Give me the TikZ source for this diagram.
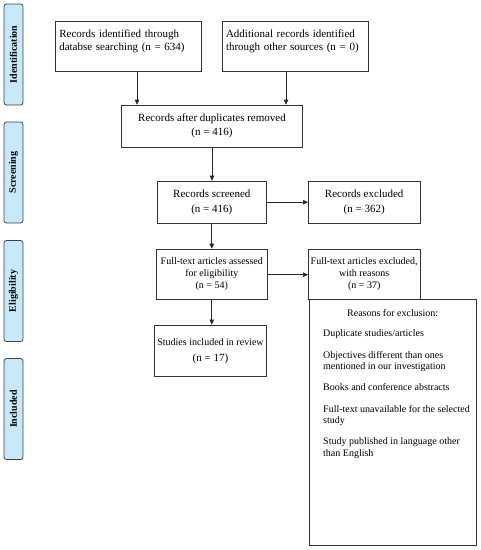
\documentclass[tikz,border=0pt]{standalone}
\usepackage{fontspec}
\setmainfont{Liberation Serif}
\usetikzlibrary{arrows.meta}
\definecolor{tabblue}{RGB}{200,232,252}

\begin{document}
\begin{tikzpicture}[x=1pt,y=-1pt,
		box/.style={draw=black!80,line width=0.7pt,rectangle,inner sep=0pt,align=center,font=\fontsize{11}{12.5}\selectfont},
		smallbox/.style={box,font=\fontsize{10}{12}\selectfont},
		tab/.style={draw=black!75,line width=0.8pt,fill=tabblue,rounded corners=2.5pt,rotate=90,minimum width=101pt,minimum height=19pt,inner sep=0pt,font=\fontsize{10}{12}\selectfont\bfseries},
		arr/.style={-{Triangle[length=5pt,width=4.5pt]},line width=0.7pt,black!85}]
			\useasboundingbox (0,0) rectangle (481,550);
			
			% stage tabs on the left
			\node[tab] (tabid) at (13.5,54.5) {Identification};
			\node[tab] (tabscr) at (13.5,172.5) {Screening};
			\node[tab] (tabelig) at (13.5,291) {Eligibility};
			\node[tab] (tabincl) at (13.5,409) {Included};
			
			% flow boxes
			\node[box,minimum width=145.3pt,minimum height=50.7pt,text width=138pt,align=left] (dbsearch) at (128.3,46.3) {Records identified through\\databse searching (n = 634)\\~};
			\node[box,minimum width=145.6pt,minimum height=50.7pt,text width=139pt,align=left] (othersrc) at (295.5,46.3) {Additional records identified\\through other sources (n = 0)\\~};
			\node[box,minimum width=180.6pt,minimum height=42.3pt] (dupremoved) at (212,126.2) {Records after duplicates removed\\[1.5pt](n = 416)};
			\node[box,minimum width=109pt,minimum height=42.3pt] (screened) at (211.8,202.2) {Records screened\\[2.5pt](n = 416)};
			\node[box,minimum width=111.7pt,minimum height=42.3pt] (excluded) at (364.2,202.2) {Records excluded\\[2.5pt](n = 362)};
			\node[smallbox,minimum width=111.7pt,minimum height=50.3pt] (fulltext) at (211.8,274.2) {Full-text articles assessed\\for eligibility\\(n = 54)};
			\node[smallbox,minimum width=111.7pt,minimum height=50pt] (ftexcluded) at (364.2,274) {Full-text articles excluded,\\with reasons\\(n = 37)};
			\node[smallbox,minimum width=112.4pt,minimum height=51.7pt] (included) at (210.5,350.8) {Studies included in review\\[4pt]{\fontsize{11}{12}\selectfont(n = 17)}};
			\node[box,minimum width=166.7pt,minimum height=246pt] (reasons) at (392.7,422) {};
			
			% reasons for exclusion
			\node[font=\fontsize{10}{12}\selectfont,inner sep=0pt] (reasonstitle) at ([shift={(0,14)}]reasons.north) {Reasons for exclusion:};
			\node[font=\fontsize{10}{11.5}\selectfont,align=left,anchor=north west,inner sep=0pt] (reasonslist) at ([shift={(14,31)}]reasons.north west)
				{Duplicate studies/articles\\[10pt]
				 Objectives different than ones\\mentioned in our investigation\\[9.5pt]
				 Books and conference abstracts\\[10pt]
				 Full-text unavailable for the selected\\study\\[9.5pt]
				 Study published in language other\\than English};
			
			% arrows
			\draw[arr] ([xshift=8.7pt]dbsearch.south) -- ([xshift=8.7pt]dbsearch.south |- dupremoved.north);
			\draw[arr] ([xshift=-9.5pt]othersrc.south) -- ([xshift=-9.5pt]othersrc.south |- dupremoved.north);
			\draw[arr] (dupremoved.south) -- (dupremoved.south |- screened.north);
			\draw[arr] (screened.east) -- (excluded.west);
			\draw[arr] (screened.south) -- (screened.south |- fulltext.north);
			\draw[arr] ([yshift=-0.5pt]fulltext.east) -- ([yshift=-0.5pt]fulltext.east -| ftexcluded.west);
			\draw[arr] (fulltext.south) -- (fulltext.south |- included.north);
		\end{tikzpicture}
\end{document}
